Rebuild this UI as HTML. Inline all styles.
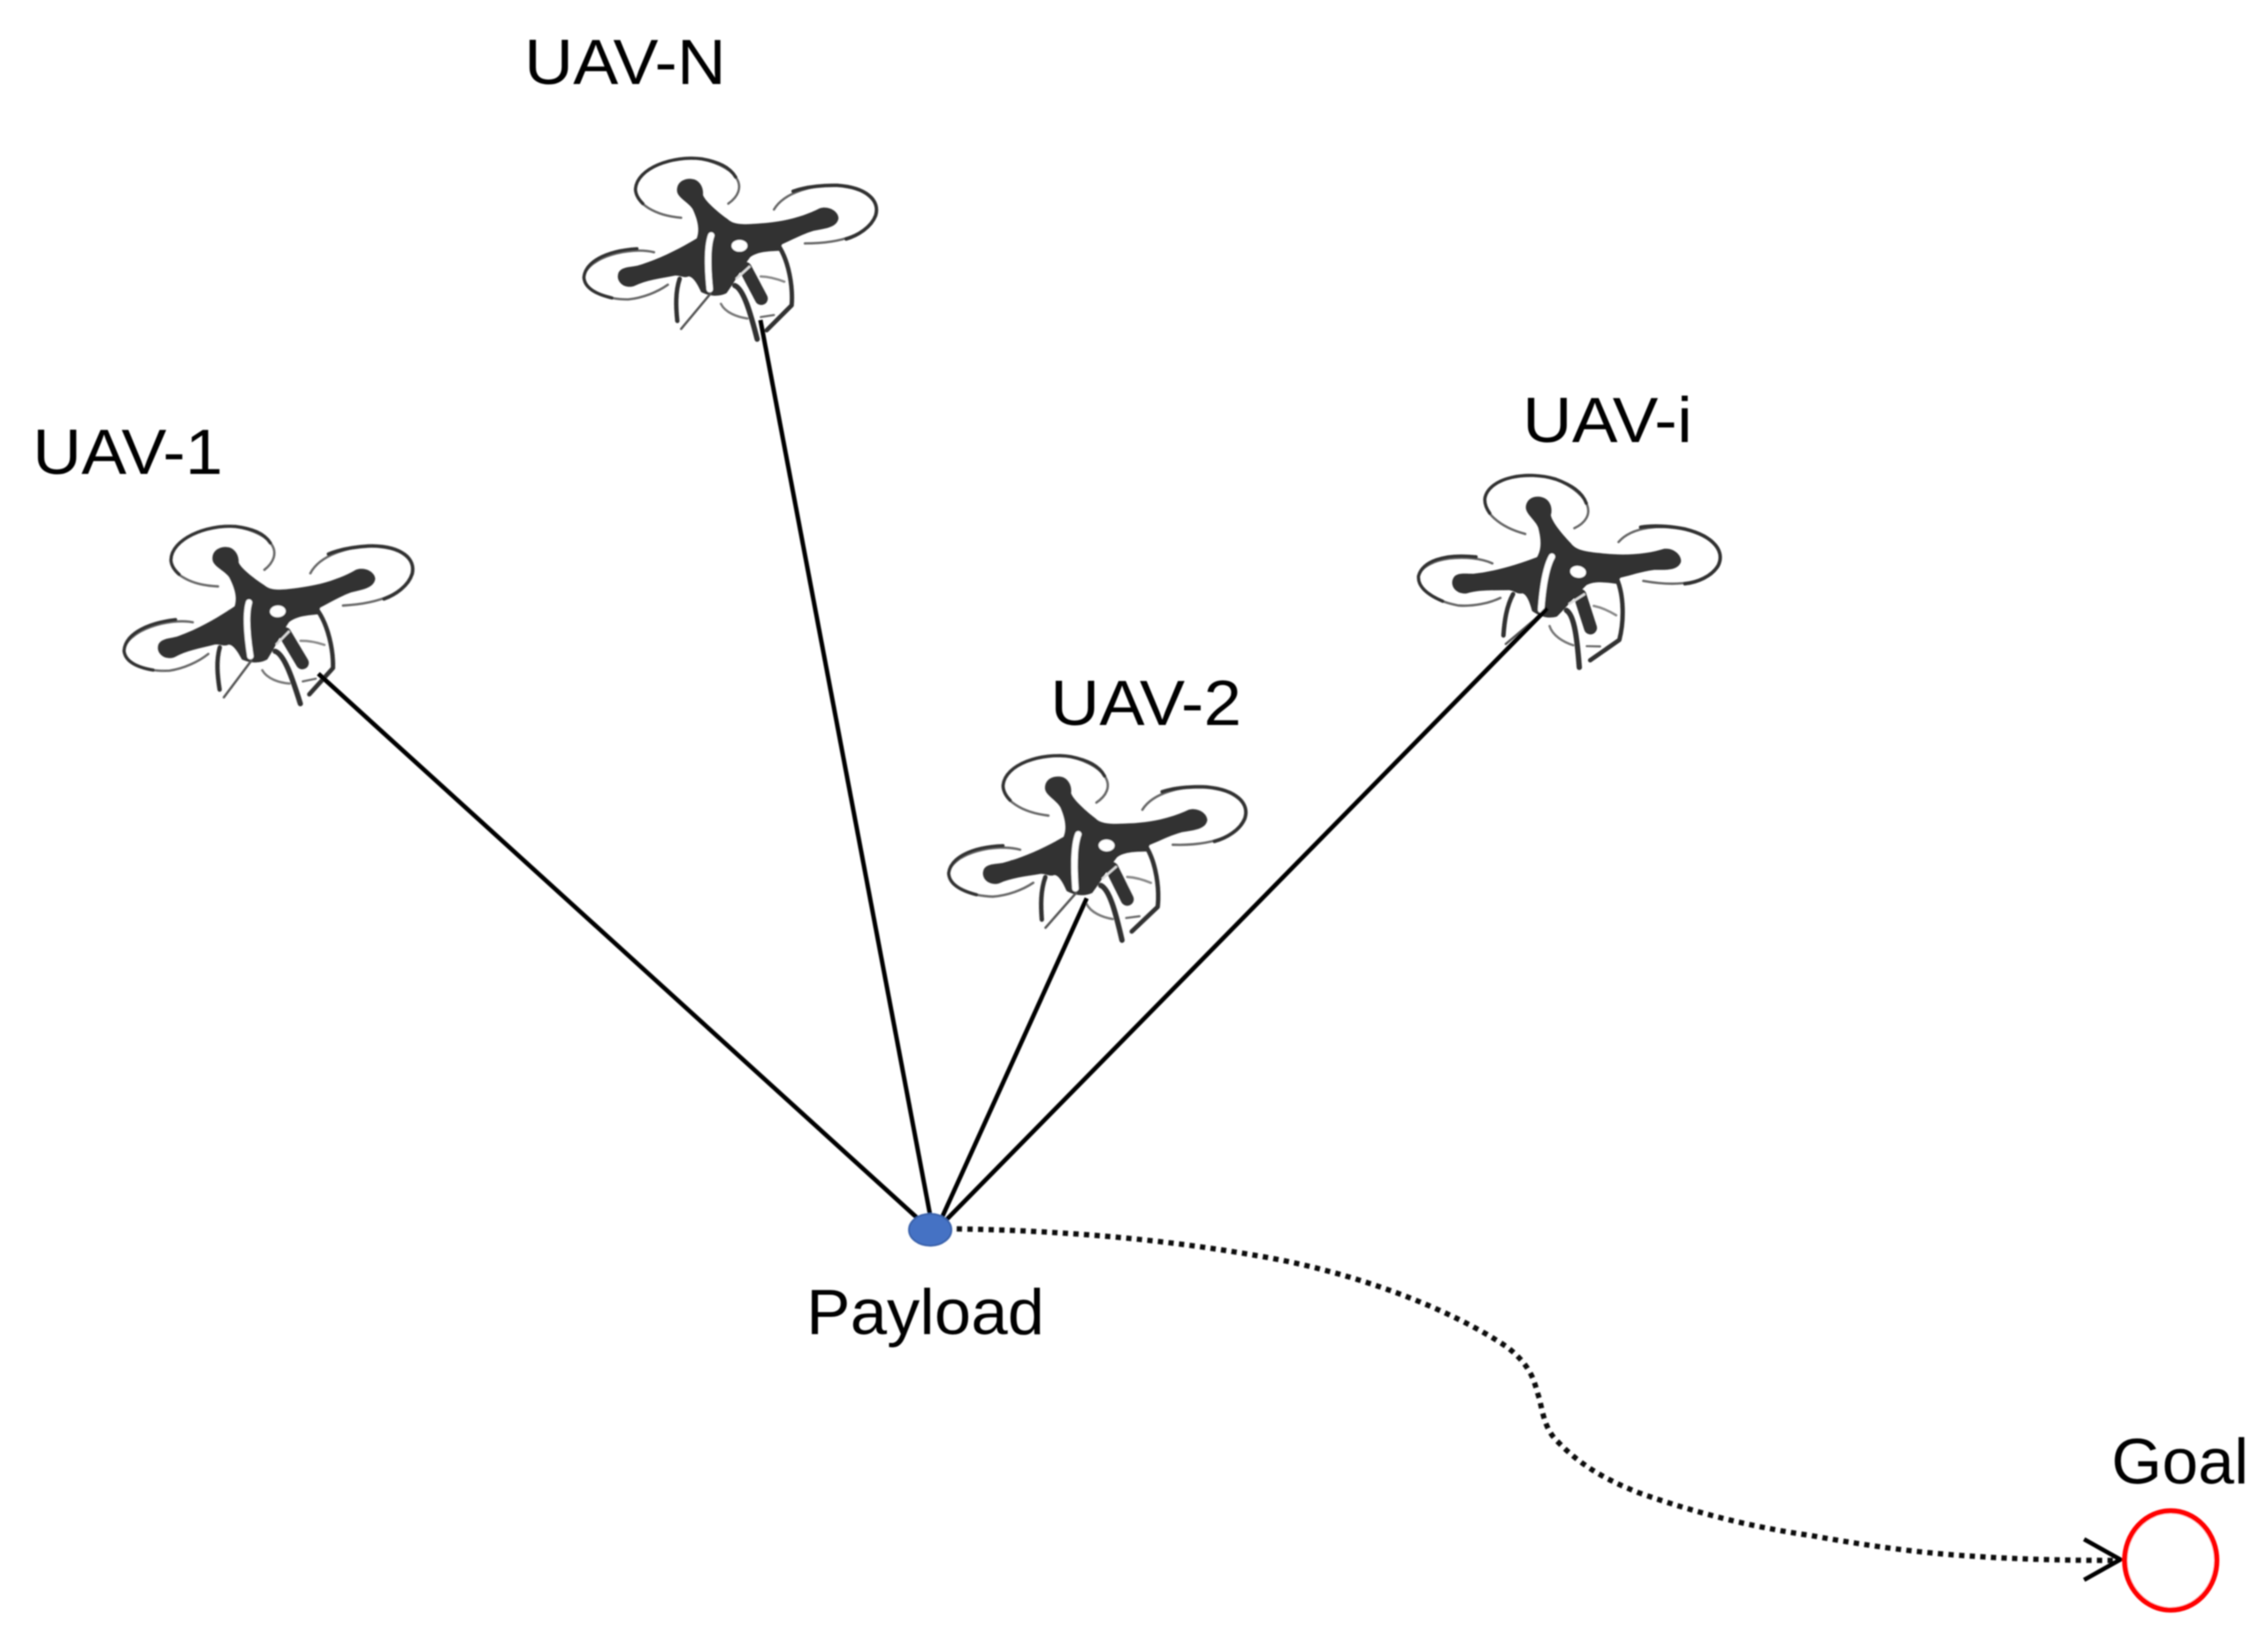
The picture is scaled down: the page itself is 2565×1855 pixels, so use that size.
<!DOCTYPE html>
<html>
<head>
<meta charset="utf-8">
<style>
html,body{margin:0;padding:0;background:#fff;}
svg{display:block;}
text{font-family:"Liberation Sans",sans-serif;font-size:72px;fill:#000;}
</style>
</head>
<body>
<svg width="2565" height="1855" viewBox="0 0 2565 1855" xmlns="http://www.w3.org/2000/svg">
<defs>
<filter id="soft" x="-5%" y="-5%" width="110%" height="110%"><feGaussianBlur stdDeviation="0.7"/></filter>
<g id="drone">
  <g fill="none" stroke-linecap="round">
    <path d="M610,270 C680,220 650,150 520,118 C420,105 300,150 295,220 C295,270 360,310 450,318" stroke="#666" stroke-width="8"/>
    <path d="M635,180 C615,145 575,128 520,118 C420,105 300,150 295,220 C295,240 305,255 320,270" stroke="#333" stroke-width="11"/>
    <path d="M765,290 C800,230 900,205 980,208 C1080,215 1125,260 1110,310 C1090,370 1000,405 870,405" stroke="#666" stroke-width="8"/>
    <path d="M830,228 C880,210 945,207 980,208 C1080,215 1125,260 1110,310 C1095,350 1050,378 1010,390" stroke="#333" stroke-width="12"/>
    <path d="M358,435 C280,415 130,450 120,520 C125,570 200,595 270,595 C320,590 370,570 405,545" stroke="#666" stroke-width="8"/>
    <path d="M300,423 C190,430 125,470 120,520 C122,550 150,575 215,590" stroke="#333" stroke-width="11"/>
    <path d="M585,610 C600,640 640,655 675,660" stroke="#777" stroke-width="8"/>
    <path d="M720,517 C750,518 775,525 800,535" stroke="#888" stroke-width="8"/>
  </g>
  <path fill="#333" d="M436,225 C436,193 465,184 485,186 C512,188 527,215 524,240 C529,258 567,293 607,322 C627,342 660,342 720,337 C800,332 870,312 920,286 C950,276 984,296 984,320 C979,349 945,354 900,362 C860,374 825,394 792,408 L784,430 C750,432 710,432 684,452 C654,492 634,532 604,574 C580,586 550,586 518,570 C505,542 490,517 475,517 C460,524 450,514 430,514 C380,524 330,530 290,550 C256,560 230,535 236,510 C241,486 270,486 300,481 C370,461 440,426 503,388 C513,360 508,330 490,290 C476,265 436,250 436,225 Z"/>
  <path d="M552,378 C537,420 541,500 547,560" fill="none" stroke="#fff" stroke-width="22" stroke-linecap="round"/>
  <ellipse cx="648" cy="413" rx="27" ry="20" fill="#fff"/>
  <path d="M668,490 L722,592" stroke="#333" stroke-width="44" stroke-linecap="round" fill="none"/>
  <path d="M636,526 L684,482" stroke="#ddd" stroke-width="8" fill="none"/>
  <g fill="none" stroke="#333" stroke-linecap="round" stroke-linejoin="round">
    <path d="M445,525 C430,570 432,620 437,668" stroke-width="15"/>
    <path d="M450,695 L550,575" stroke="#555" stroke-width="8"/>
    <path d="M785,420 C815,470 830,550 825,615 L740,700" stroke-width="15"/>
    <path d="M632,548 C662,560 685,640 708,730" stroke-width="18"/>
    <path d="M720,655 L765,648" stroke="#666" stroke-width="7"/>
  </g>
</g>
</defs>

<g filter="url(#soft)">
<!-- drones -->
<use href="#drone" transform="translate(826,281) scale(0.3333) translate(-617,-422)"/>
<use href="#drone" transform="translate(304,695) rotate(-3) scale(0.3333) translate(-617,-422)"/>
<use href="#drone" transform="translate(1241,959) rotate(1.5) scale(0.3366) translate(-617,-422)"/>
<use href="#drone" transform="translate(1774,648) rotate(10) scale(0.335) translate(-617,-422)"/>

<!-- cables -->
<g stroke="#000" stroke-width="5" fill="none">
  <line x1="1040" y1="1380" x2="360" y2="762"/>
  <line x1="1053" y1="1380" x2="860" y2="362"/>
  <line x1="1064" y1="1380" x2="1229" y2="1016"/>
  <line x1="1070" y1="1380" x2="1750" y2="688"/>
</g>

<!-- payload -->
<ellipse cx="1052" cy="1391" rx="24" ry="18" fill="#4472c4" stroke="#3a62ab" stroke-width="2"/>

<!-- trajectory -->
<path d="M1082,1390 C1200,1392 1311,1401 1420,1420 C1530,1438 1640,1480 1705,1524 C1735,1548 1735,1565 1741,1582 C1745,1600 1748,1618 1762,1631 C1790,1660 1820,1675 1852,1688 C1920,1712 1980,1727 2049,1737 C2110,1748 2160,1755 2213,1759 C2280,1764 2340,1765 2395,1765" fill="none" stroke="#111" stroke-width="6" stroke-dasharray="6 6"/>

<!-- arrowhead -->
<path d="M2357,1741 L2398,1764 L2357,1787" fill="none" stroke="#000" stroke-width="5"/>

<!-- goal -->
<ellipse cx="2455" cy="1765" rx="52" ry="56" fill="#fff" stroke="#f00" stroke-width="6"/>

<!-- labels -->
<text x="593" y="95" textLength="228" lengthAdjust="spacingAndGlyphs">UAV-N</text>
<text x="37" y="536" textLength="215" lengthAdjust="spacingAndGlyphs">UAV-1</text>
<text x="1188" y="820" textLength="216" lengthAdjust="spacingAndGlyphs">UAV-2</text>
<text x="1722" y="500" textLength="192" lengthAdjust="spacingAndGlyphs">UAV-i</text>
<text x="912" y="1509" textLength="269" lengthAdjust="spacingAndGlyphs">Payload</text>
<text x="2388" y="1678" textLength="155" lengthAdjust="spacingAndGlyphs">Goal</text>
</g>
</svg>
</body>
</html>
